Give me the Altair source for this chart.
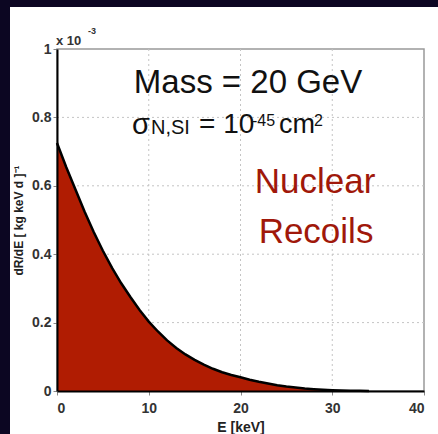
import altair as alt
import pandas as pd

# Recoil energy (keV) and differential rate (x 10^-3 per kg keV d)
energy = [0, 1, 2, 3, 4, 5, 6, 7, 8, 9, 10, 11, 12, 13, 14, 15, 16, 17,
          18, 19, 20, 21, 22, 23, 24, 25, 26, 27, 28, 29, 30, 31, 32, 33, 34]
rate = [0.725, 0.655, 0.59, 0.525, 0.465, 0.41, 0.36, 0.315, 0.275, 0.237,
        0.203, 0.174, 0.148, 0.126, 0.107, 0.091, 0.077, 0.065, 0.055, 0.047,
        0.040, 0.033, 0.027, 0.022, 0.017, 0.013, 0.010, 0.007, 0.005, 0.0035,
        0.0025, 0.0017, 0.001, 0.0005, 0.0]

x_ticks = [0, 10, 20, 30, 40]
y_ticks = [0, 0.2, 0.4, 0.6, 0.8, 1]
x_grid = [10, 20, 30]
y_grid = [0.2, 0.4, 0.6, 0.8]

FONT = "Liberation Sans"
DARK = "#0c0622"
RED_FILL = "#b01c02"
RED_TEXT = "#a0180a"

W, H = 367, 342

df = pd.DataFrame({"E": energy, "rate": rate})
one = pd.DataFrame({"k": [0]})

xs = alt.Scale(domain=[0, 40], nice=False)
ys = alt.Scale(domain=[0, 1], nice=False)

x_enc = alt.X("E:Q", scale=xs, axis=alt.Axis(
    values=x_ticks, title="E [keV]", grid=False, zindex=1, labelPadding=6,
    titleY=40, titleBaseline="alphabetic", titleFontSize=14))
y_enc = alt.Y("rate:Q", scale=ys, axis=alt.Axis(
    values=y_ticks, format="~g", title="dR/dE [ kg keV d ]⁻¹", grid=False,
    zindex=1, titleX=-39, titleY=171, titleAngle=270, titleBaseline="middle",
    titleAlign="center", titleFontSize=12, labelPadding=2))

# dark frame strips
strip_left = alt.Chart(one).mark_rect(color=DARK).encode(
    x=alt.value(-57), x2=alt.value(-47), y=alt.value(-49), y2=alt.value(385))
strip_top = alt.Chart(one).mark_rect(color=DARK).encode(
    x=alt.value(-57), x2=alt.value(381), y=alt.value(-49), y2=alt.value(-42))

grid_style = dict(color="#c4c4c4", strokeWidth=1, strokeDash=[2, 3])
gx = alt.Chart(pd.DataFrame({"E": x_grid})).mark_rule(**grid_style).encode(
    x=alt.X("E:Q", scale=xs))
gy = alt.Chart(pd.DataFrame({"rate": y_grid})).mark_rule(**grid_style).encode(
    y=alt.Y("rate:Q", scale=ys))

area = alt.Chart(df).mark_area(color=RED_FILL, opacity=1).encode(x=x_enc, y=y_enc)
line = alt.Chart(df).mark_line(color="black", strokeWidth=2.5).encode(
    x=alt.X("E:Q", scale=xs), y=alt.Y("rate:Q", scale=ys))


def txt(s, x, y, size, color="#111111", align="left", weight="normal"):
    return alt.Chart(one).mark_text(
        font=FONT, fontSize=size, color=color, align=align,
        baseline="alphabetic", fontWeight=weight).encode(
        x=alt.value(x), y=alt.value(y), text=alt.value(s))


texts = [
    txt("Mass = 20 GeV", 191, 44, 33, align="center"),
    txt("σ", 75, 85, 29),
    txt("N,SI", 94, 85, 20),
    txt("= 10", 142, 84, 28),
    txt("-45", 195, 77, 16),
    txt("cm", 222, 84, 27),
    txt("2", 257, 77, 16),
    txt("Nuclear", 258, 144, 35, color=RED_TEXT, align="center"),
    txt("Recoils", 259, 194, 35, color=RED_TEXT, align="center"),
    txt("x 10", -1, -4, 13, color="#333333", weight="bold"),
    txt("-3", 31, -15, 9, color="#333333", weight="bold"),
]

chart = alt.layer(strip_left, strip_top, gx, gy, area, line, *texts).properties(
    width=W, height=H,
    autosize=alt.AutoSizeParams(type="none"),
    padding={"left": 57, "top": 49, "right": 14, "bottom": 43},
    background="white",
).configure_view(
    stroke="#999999", strokeWidth=1.5
).configure_axis(
    labelFont=FONT, labelFontWeight="bold", labelFontSize=14, labelColor="#333333",
    titleFont=FONT, titleFontWeight="bold", titleColor="#222222",
    domainColor="black", domainWidth=2, tickColor="#888888", tickSize=4,
    labelPadding=8
)

chart.save("out.html", embed_options={"renderer": "svg", "actions": False})
